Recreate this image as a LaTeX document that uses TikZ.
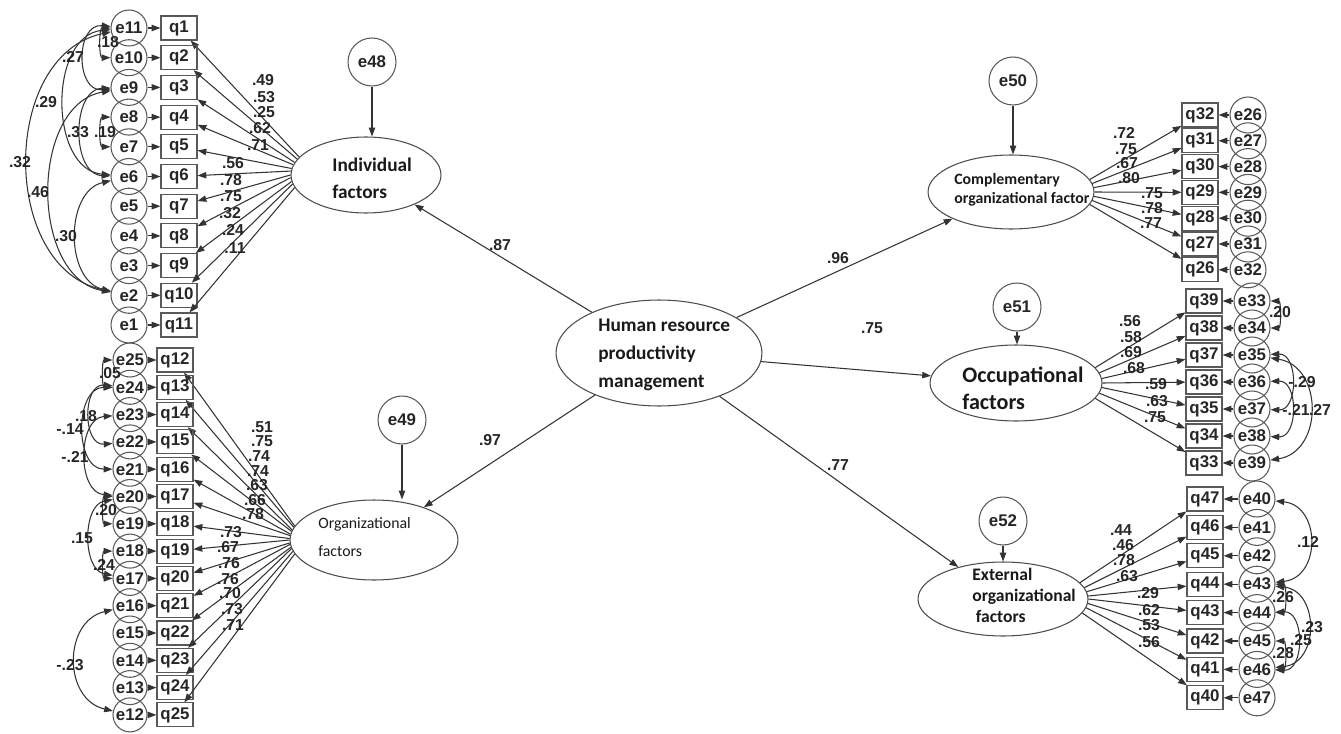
\documentclass[tikz,border=0pt]{standalone}
\usepackage{fontspec}
\setmainfont{Liberation Sans}
\newfontfamily\calfont{Carlito}
\usetikzlibrary{arrows.meta,shapes.geometric}
\newcommand\lblfont{\bfseries\fontsize{9}{10}\selectfont}
\newcommand\varfont{\bfseries\fontsize{9.6}{10}\selectfont}
\begin{document}
\begin{tikzpicture}[x=0.02cm,y=-0.02cm,
  >={Triangle[length=5pt,width=3.6pt]},
  ln/.style={draw=black!80, line width=0.6pt},
  arr/.style={ln,->},
  cov/.style={ln,<->},
  errc/.style={circle, draw=black!65, line width=0.6pt, minimum size=0.72cm, inner sep=0pt, font=\varfont, text=black!85},
  errs/.style={errc, minimum size=0.68cm},
  dist/.style={errc, minimum size=0.96cm},
  obs/.style={rectangle, draw=black!65, line width=0.6pt, minimum width=0.72cm, minimum height=0.48cm, inner sep=0pt, font=\varfont, text=black!85},
  lat/.style={ellipse, draw=black!70, line width=0.6pt, inner sep=0pt},
  lab/.style={font=\lblfont, inner sep=0pt, text=black!85},
  ltxt/.style={align=left, inner sep=0pt, anchor=west, text=black!90}]
\useasboundingbox (0,0) rectangle (1341,733);

% ---------- latent variables ----------
\node[lat, minimum width=3.0cm, minimum height=1.52cm] (ind) at (366,175) {};
\node[lat, minimum width=4.12cm, minimum height=2.12cm] (hrpm) at (659,353) {};
\node[lat, minimum width=3.36cm, minimum height=1.6cm] (org) at (374,540) {};
\node[lat, minimum width=3.32cm, minimum height=1.48cm] (comp) at (1011,192) {};
\node[lat, minimum width=3.44cm, minimum height=1.52cm] (occ) at (1016,383) {};
\node[lat, minimum width=3.4cm, minimum height=1.48cm] (ext) at (1003,599) {};

\node[ltxt, font=\calfont\bfseries\fontsize{11}{15.5}\selectfont] at (332,178) {Individual\\factors};
\node[ltxt, font=\calfont\bfseries\fontsize{11}{16}\selectfont] at (598,355) {Human resource\\productivity\\management};
\node[ltxt, font=\calfont\fontsize{9}{15.5}\selectfont] at (318,537) {Organizational\\factors};
\node[ltxt, font=\calfont\bfseries\fontsize{9}{10.8}\selectfont] at (954,190) {Complementary\\organizational factor};
\node[ltxt, font=\calfont\bfseries\fontsize{12.6}{15.3}\selectfont] at (962,388) {Occupational\\factors};
\node[ltxt, font=\calfont\bfseries\fontsize{10}{12}\selectfont] at (972,595) {External\\organizational\\\hspace{2pt}factors};

% ---------- disturbances ----------
\node[dist] (e48) at (372,62) {e48};
\node[dist] (e49) at (402,420) {e49};
\node[dist] (e50) at (1013,81) {e50};
\node[dist] (e51) at (1017,307) {e51};
\node[dist] (e52) at (1003,521) {e52};
\draw[arr] (e48) -- (e48 |- ind.north);
\draw[arr] (e49) -- (e49 |- org.north);
\draw[arr] (e50) -- (e50 |- comp.north);
\draw[arr] (e51) -- (e51 |- occ.north);
\draw[arr] (e52) -- (e52 |- ext.north);

% ---------- structural paths ----------
\draw[arr] (hrpm) -- (ind);
\draw[arr] (hrpm) -- (org);
\draw[arr] (hrpm) -- (comp);
\draw[arr] (hrpm) -- (occ);
\draw[arr] (hrpm) -- (ext);
\node[lab] at (500,245) {.87};
\node[lab] at (490,440) {.97};
\node[lab] at (838,258) {.96};
\node[lab] at (872,328) {.75};
\node[lab] at (838,465) {.77};

% ---------- individual factors indicators ----------
\foreach \i in {1,...,11} {
  \pgfmathsetmacro\yy{28+(\i-1)*29.7}
  \pgfmathtruncatemacro\ee{12-\i}
  \pgfmathsetmacro\aa{165+(\i-1)*2.5}
  \node[obs] (q\i) at (179,\yy) {q\i};
  \node[errc] (e\ee) at (129,\yy) {e\ee};
  \draw[arr] (e\ee) -- (q\i);
  \draw[arr] (ind.\aa) -- (q\i);
}
% ---------- organizational factors indicators ----------
\foreach \j in {0,...,13} {
  \pgfmathsetmacro\yy{360+\j*27.3}
  \pgfmathtruncatemacro\qq{12+\j}
  \pgfmathtruncatemacro\ee{25-\j}
  \pgfmathsetmacro\aa{170+\j*20/13}
  \node[obs] (q\qq) at (175,\yy) {q\qq};
  \node[errs] (e\ee) at (130,\yy) {e\ee};
  \draw[arr] (e\ee) -- (q\qq);
  \draw[arr] (org.\aa) -- (q\qq);
}
% ---------- complementary indicators ----------
\foreach \j in {0,...,6} {
  \pgfmathsetmacro\yy{115+\j*25.8}
  \pgfmathtruncatemacro\qq{32-\j}
  \pgfmathtruncatemacro\ee{26+\j}
  \pgfmathsetmacro\aa{9-\j*3}
  \node[obs] (q\qq) at (1200,\yy) {q\qq};
  \node[errc] (e\ee) at (1248,\yy) {e\ee};
  \draw[arr] (e\ee) -- (q\qq);
  \draw[arr] (comp.\aa) -- (q\qq);
}
% ---------- occupational indicators ----------
\foreach \j in {0,...,6} {
  \pgfmathsetmacro\yy{301+\j*27}
  \pgfmathtruncatemacro\qq{39-\j}
  \pgfmathtruncatemacro\ee{33+\j}
  \pgfmathsetmacro\aa{11-\j*22/6}
  \node[obs] (q\qq) at (1204,\yy) {q\qq};
  \node[errc] (e\ee) at (1252,\yy) {e\ee};
  \draw[arr] (e\ee) -- (q\qq);
  \draw[arr] (occ.\aa) -- (q\qq);
}
% ---------- external indicators ----------
\foreach \j in {0,...,7} {
  \pgfmathsetmacro\yy{499+\j*28.4}
  \pgfmathtruncatemacro\qq{47-\j}
  \pgfmathtruncatemacro\ee{40+\j}
  \pgfmathsetmacro\aa{12-\j*22/7}
  \node[obs] (q\qq) at (1205,\yy) {q\qq};
  \node[errc] (e\ee) at (1257,\yy) {e\ee};
  \draw[arr] (e\ee) -- (q\qq);
  \draw[arr] (ext.\aa) -- (q\qq);
}

% ---------- loading labels ----------
\foreach \x/\y/\t in {263/80/.49, 264/97/.53, 264/112/.25, 260/128/.62, 258/145/.71,
  233/163/.56, 231/180/.78, 231/196/.75, 230/213/.32, 233/230/.24, 235/248/.11,
  262/427/.51, 262/441/.75, 259/456/.74, 258/471/.74, 257/485/.63, 255/500/.66, 253/514/.78,
  231/532/.73, 228/547/.67, 229/563/.76, 228/579/.76, 230/593/.70, 232/609/.73, 233/625/.71,
  1124/133/.72, 1126/149/.75, 1127/163/.67, 1129/178/.80, 1152/193/.75, 1152/208/.78, 1151/223/.77,
  1130/321/.56, 1131/337/.58, 1131/352/.69, 1134/368/.68, 1156/384/.59, 1157/401/.63, 1155/417/.75,
  1121/530/.44, 1123/545/.46, 1124/560/.78, 1127/576/.63, 1148/593/.29, 1149/610/.62, 1149/625/.53, 1149/642/.56}
  \node[lab] at (\x,\y) {\t};

% ---------- covariances, left top ----------
\draw[cov] (e11) to[bend right=78, looseness=1.12] (e2);
\draw[cov] (e9) to[bend right=80, looseness=1.05] (e2);
\draw[cov] (e11) to[bend right=85, looseness=1.1] (e6);
\draw[cov] (e11) to[bend right=95, looseness=1.45] (e9);
\draw[cov] (e9) to[bend right=88, looseness=1.15] (e6);
\draw[cov] (e6) to[bend right=77, looseness=1.1] (e2);
\draw[cov] (e8) to[bend right=90] (e7);
\draw[cov] (e11) to[bend right=90] (e10);
\foreach \x/\y/\t in {20/162/.32, 46/102/.29, 73/57/.27, 78/132/.33, 38/192/.46, 66/236/.30, 105/132/.19, 108/42/.18}
  \node[lab] at (\x,\y) {\t};

% ---------- covariances, left bottom ----------
\draw[cov] (e25) to[bend right=90] (e24);
\draw[cov] (e24) to[bend right=95, looseness=1.35] (e22);
\draw[cov] (e24) to[bend right=90, looseness=1.2] (e21);
\draw[cov] (e23) to[bend right=86, looseness=1.15] (e20);
\draw[cov] (e20) to[bend right=90] (e19);
\draw[cov] (e20) to[bend right=80, looseness=1.05] (e17);
\draw[cov] (e18) to[bend right=90] (e17);
\draw[cov] (e16) to[bend right=77, looseness=1.3] (e12);
\foreach \x/\y/\t in {110/373/.05, 86/416/.18, 70/429/-.14, 75/457/-.21, 106/510/.20, 82/538/.15, 104/565/.24, 70/665/-.23}
  \node[lab] at (\x,\y) {\t};

% ---------- covariances, right ----------
\draw[cov] (e33) to[bend left=90] (e34);
\draw[cov] (e35) to[bend left=92, looseness=1.3] (e37);
\draw[cov] (e36) to[bend left=92, looseness=1.3] (e38);
\draw[cov] (e35) to[bend left=81, looseness=1.35] (e39);
\draw[cov] (e40) to[bend left=84, looseness=1.45] (e43);
\draw[cov] (e43) to[bend left=90] (e44);
\draw[cov] (e43) to[bend left=84, looseness=1.4] (e46);
\draw[cov] (e44) to[bend left=92, looseness=1.3] (e46);
\draw[cov] (e45) to[bend left=90] (e46);
\foreach \x/\y/\t in {1280/312/.20, 1302/382/-.29, 1296/410/-.21, 1320/410/.27, 1308/542/.12, 1283/597/.26, 1312/627/.23, 1301/640/.25, 1283/653/.28}
  \node[lab] at (\x,\y) {\t};
\end{tikzpicture}
\end{document}
